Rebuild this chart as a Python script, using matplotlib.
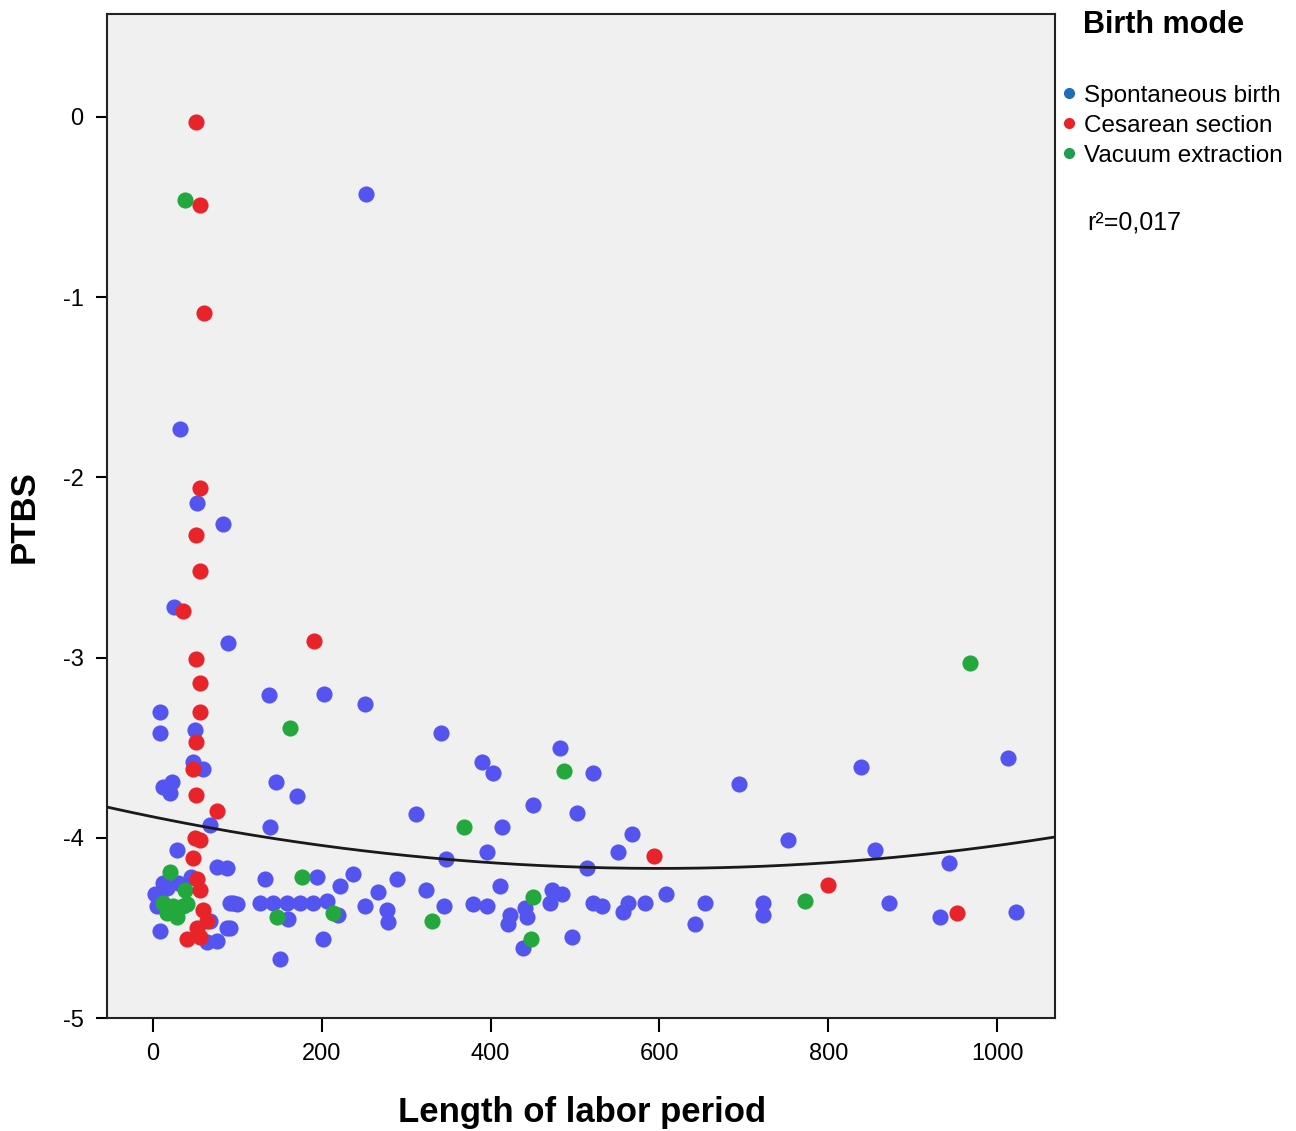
import numpy as np
import matplotlib.pyplot as plt
from matplotlib.lines import Line2D

plt.rcParams['font.family'] = ['Liberation Sans', 'DejaVu Sans']
plt.rcParams['axes.unicode_minus'] = False

# Spontaneous birth
spont_x = [252, 32, 52, 83, 25, 89, 137, 203, 251, 8, 8, 50, 341, 482, 390, 403, 521, 694,
           839, 1013, 47, 59, 12, 23, 20, 146, 171, 312, 450, 502, 413, 568, 139, 752, 551,
           396, 347, 514, 855, 943, 68, 28, 76, 88, 12, 8, 95, 8, 68, 88, 64, 76, 2, 5,
           133, 194, 237, 222, 289, 267, 91, 100, 127, 142, 159, 174, 190, 206, 160, 219,
           251, 277, 278, 201, 150, 91, 323, 411, 473, 485, 470, 345, 379, 396, 423, 421,
           441, 443, 438, 496, 521, 532, 563, 557, 583, 608, 654, 642, 723, 723, 872, 932, 1022,
           16, 30, 45]
spont_y = [-0.43, -1.73, -2.14, -2.26, -2.72, -2.92, -3.21, -3.20, -3.26, -3.30, -3.42, -3.40,
           -3.42, -3.50, -3.58, -3.64, -3.64, -3.70, -3.61, -3.56, -3.58, -3.62, -3.72, -3.69,
           -3.75, -3.69, -3.77, -3.87, -3.82, -3.86, -3.94, -3.98, -3.94, -4.01, -4.08, -4.08,
           -4.12, -4.17, -4.07, -4.14, -3.93, -4.07, -4.16, -4.17, -4.25, -4.31, -4.36, -4.52,
           -4.46, -4.50, -4.58, -4.57, -4.31, -4.38, -4.23, -4.22, -4.20, -4.27, -4.23, -4.30,
           -4.36, -4.37, -4.36, -4.36, -4.36, -4.36, -4.36, -4.35, -4.45, -4.43, -4.38, -4.40,
           -4.47, -4.56, -4.67, -4.50, -4.29, -4.27, -4.29, -4.31, -4.36, -4.38, -4.37, -4.38,
           -4.43, -4.48, -4.39, -4.44, -4.61, -4.55, -4.36, -4.38, -4.36, -4.41, -4.36, -4.31,
           -4.36, -4.48, -4.36, -4.43, -4.36, -4.44, -4.41,
           -4.28, -4.25, -4.22]

# Cesarean section
ces_x = [51, 56, 60, 56, 51, 56, 36, 191, 51, 56, 56, 51, 47, 51, 76, 50, 56, 47, 52, 56,
         59, 64, 52, 40, 56, 594, 800, 953]
ces_y = [-0.03, -0.49, -1.09, -2.06, -2.32, -2.52, -2.74, -2.91, -3.01, -3.14, -3.30, -3.47,
         -3.62, -3.76, -3.85, -4.00, -4.01, -4.11, -4.23, -4.29, -4.40, -4.46, -4.50, -4.56,
         -4.55, -4.10, -4.26, -4.42]

# Vacuum extraction
vac_x = [38, 162, 487, 968, 368, 177, 147, 213, 331, 450, 448, 772, 20, 12, 24, 36, 28, 17, 40, 38]
vac_y = [-0.46, -3.39, -3.63, -3.03, -3.94, -4.22, -4.44, -4.42, -4.46, -4.33, -4.56, -4.35,
         -4.19, -4.36, -4.38, -4.38, -4.44, -4.42, -4.37, -4.29]

# quadratic fit line: a + b*x + c*x^2
fit_coef = [-3.884, -9.53e-4, 7.94e-7]

c_blue, c_red, c_green = '#5454f0', '#e8232a', '#22a83c'

fig = plt.figure(figsize=(12.96, 11.31), dpi=100)
ax = fig.add_axes([0.0826, 0.0999, 0.7315, 0.8877])
ax.set_facecolor('#f0f0f0')

ax.scatter(spont_x, spont_y, s=135, color=c_blue, linewidths=0, zorder=3)
ax.scatter(vac_x, vac_y, s=135, color=c_green, linewidths=0, zorder=3)
ax.scatter(ces_x, ces_y, s=135, color=c_red, linewidths=0, zorder=3)

xs = np.linspace(-54.5, 1068.7, 300)
ax.plot(xs, fit_coef[0] + fit_coef[1] * xs + fit_coef[2] * xs ** 2, color='#1a1a1a', lw=2, zorder=4)

ax.set_xlim(-54.5, 1068.7)
ax.set_ylim(-5, 0.57)
ax.set_xticks([0, 200, 400, 600, 800, 1000])
ax.set_yticks([0, -1, -2, -3, -4, -5])
ax.tick_params(axis='x', length=10, width=1.5, labelsize=17, pad=8)
ax.tick_params(axis='y', length=8, width=1.5, labelsize=17, pad=9)
for sp in ax.spines.values():
    sp.set_linewidth(1.5)
    sp.set_color('#222222')

fig.text(0.449, 0.016, 'Length of labor period', fontsize=25, fontweight='bold', ha='center', va='center')
fig.text(0.019, 0.543, 'PTBS', fontsize=25, fontweight='bold', rotation=90, ha='center', va='center')

fig.text(0.8356, 0.978, 'Birth mode', fontsize=22, fontweight='bold', va='center', ha='left')
handles = [Line2D([], [], ls='', marker='o', ms=7, color=c) for c in ['#1f6fb5', c_red, '#1e9e50']]
labels = ['Spontaneous birth', 'Cesarean section', 'Vacuum extraction']
fig.legend(handles, labels, loc='upper left', bbox_to_anchor=(0.812, 0.9335), frameon=False,
           fontsize=17.5, handlelength=0.6, handletextpad=0.3, labelspacing=0.32, borderaxespad=0)
fig.text(0.8387, 0.803, 'r\u00b2=0,017', fontsize=18, va='center', ha='left')

fig.savefig('out.png', dpi=100, facecolor='white')
